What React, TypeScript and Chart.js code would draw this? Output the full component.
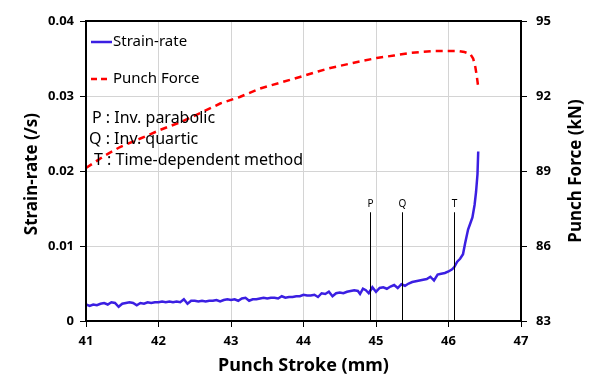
import React, { useEffect, useRef } from "react";
import { Chart, registerables } from "chart.js";

Chart.register(...registerables);

const strainStroke = [
  41.0, 41.05, 41.1, 41.15, 41.2, 41.25, 41.3, 41.35, 41.4, 41.45, 41.5, 41.55, 41.6, 41.65, 41.7, 41.75, 41.8, 41.85, 41.9, 41.95,
  42.0, 42.05, 42.1, 42.15, 42.2, 42.25, 42.3, 42.35, 42.4, 42.45, 42.5, 42.55, 42.6, 42.65, 42.7, 42.75, 42.8, 42.85, 42.9, 42.95,
  43.0, 43.05, 43.1, 43.15, 43.2, 43.25, 43.3, 43.35, 43.4, 43.45, 43.5, 43.55, 43.6, 43.65, 43.7, 43.75, 43.8, 43.85, 43.9, 43.95,
  44.0, 44.05, 44.1, 44.15, 44.2, 44.25, 44.3, 44.35, 44.4, 44.45, 44.5, 44.55, 44.6, 44.65, 44.7, 44.75, 44.78, 44.82, 44.86, 44.9,
  44.95, 45.0, 45.05, 45.1, 45.15, 45.2, 45.25, 45.3, 45.35, 45.4, 45.45, 45.5, 45.55, 45.6, 45.65, 45.7, 45.75, 45.8, 45.85, 45.9,
  45.95, 46.0, 46.05, 46.08, 46.12, 46.16, 46.2, 46.23, 46.27, 46.3, 46.33, 46.36, 46.38, 46.4, 46.41,
];
const strainRate = [
  0.0022, 0.002, 0.0022, 0.0021, 0.0023, 0.0024, 0.0022, 0.0025, 0.0024, 0.0019, 0.0023, 0.0024, 0.0025, 0.0024, 0.0021, 0.0024, 0.0023, 0.0025, 0.0024, 0.0025,
  0.0025, 0.0026, 0.0025, 0.0026, 0.0025, 0.0026, 0.0025, 0.0029, 0.0023, 0.0027, 0.0027, 0.0026, 0.0027, 0.0026, 0.0027, 0.0027, 0.0028, 0.0026, 0.0028, 0.0029,
  0.0028, 0.0029, 0.0027, 0.003, 0.0031, 0.0027, 0.0029, 0.0029, 0.003, 0.0031, 0.003, 0.0031, 0.0031, 0.003, 0.0033, 0.0031, 0.0032, 0.0032, 0.0033, 0.0033,
  0.0035, 0.0034, 0.0034, 0.0035, 0.0032, 0.0037, 0.0036, 0.0039, 0.0033, 0.0037, 0.0038, 0.0037, 0.0039, 0.004, 0.0041, 0.004, 0.0036, 0.0043, 0.0041, 0.0037,
  0.0045, 0.0039, 0.0044, 0.0045, 0.0043, 0.0046, 0.0048, 0.0044, 0.0049, 0.0047, 0.005, 0.0052, 0.0053, 0.0054, 0.0055, 0.0056, 0.0059, 0.0054, 0.0062, 0.0063,
  0.0064, 0.0066, 0.0069, 0.0072, 0.0079, 0.0083, 0.0089, 0.0104, 0.0122, 0.013, 0.0138, 0.0155, 0.0172, 0.0196, 0.0226,
];

const forceStroke = [
  41.0, 41.25, 41.47, 41.75, 42.02, 42.3, 42.6, 42.85, 43.12, 43.4, 43.7, 43.95, 44.2, 44.37, 44.68, 45.01, 45.25, 45.47, 45.79,
  46.12, 46.22, 46.3, 46.34, 46.37, 46.39, 46.41,
];
const punchForce = [
  89.12, 89.6, 89.96, 90.3, 90.64, 90.95, 91.35, 91.7, 91.96, 92.3, 92.55, 92.76, 92.98, 93.12, 93.32, 93.52, 93.62, 93.72, 93.8,
  93.8, 93.76, 93.68, 93.5, 93.16, 92.8, 92.36,
];

const markerLabels = ["P", "Q", "T"];
const markerStroke = [44.92, 45.36, 46.08];
const markerTop = 0.0145;

const noteLines = ["P : Inv. parabolic", "Q : Inv. quartic", "T : Time-dependent method"];

const xTitle = "Punch Stroke (mm)";
const yTitle = "Strain-rate (/s)";
const y1Title = "Punch Force (kN)";

const BLUE = "#3b1fe2";
const RED = "#ff0000";
const FONT = "'Noto Sans', 'DejaVu Sans', sans-serif";

export default function App() {
  const ref = useRef<HTMLCanvasElement | null>(null);

  useEffect(() => {
    if (!ref.current) return;
    const overlay = {
      id: "overlay",
      afterDraw(chart: any) {
        const ctx = chart.ctx;
        const a = chart.chartArea;
        const xs = chart.scales.x;
        const ys = chart.scales.y;
        ctx.save();
        // border
        ctx.strokeStyle = "#000";
        ctx.lineWidth = 2;
        ctx.strokeRect(a.left, a.top, a.right - a.left, a.bottom - a.top);

        // markers
        ctx.lineWidth = 1;
        ctx.strokeStyle = "#000";
        ctx.fillStyle = "#000";
        ctx.font = `10px ${FONT}`;
        ctx.textAlign = "center";
        ctx.textBaseline = "bottom";
        markerStroke.forEach((s, i) => {
          const px = Math.round(xs.getPixelForValue(s)) + 0.5;
          const top = ys.getPixelForValue(markerTop);
          ctx.beginPath();
          ctx.moveTo(px, top);
          ctx.lineTo(px, a.bottom);
          ctx.stroke();
          ctx.fillText(markerLabels[i], px, top - 3);
        });

        // legend
        ctx.font = `15px ${FONT}`;
        ctx.textAlign = "left";
        ctx.textBaseline = "middle";
        ctx.fillStyle = "#000";
        ctx.strokeStyle = BLUE;
        ctx.lineWidth = 2.5;
        ctx.beginPath();
        ctx.moveTo(a.left + 5, a.top + 21);
        ctx.lineTo(a.left + 26, a.top + 21);
        ctx.stroke();
        ctx.fillText("Strain-rate", a.left + 27, a.top + 21);
        ctx.strokeStyle = RED;
        ctx.setLineDash([6, 4]);
        ctx.beginPath();
        ctx.moveTo(a.left + 5, a.top + 58);
        ctx.lineTo(a.left + 22, a.top + 58);
        ctx.stroke();
        ctx.setLineDash([]);
        ctx.fillText("Punch Force", a.left + 27, a.top + 58);

        // notes
        ctx.font = `16px ${FONT}`;
        const noteX = [a.left + 6, a.left + 3, a.left + 8];
        noteLines.forEach((t, i) => {
          ctx.fillText(t, noteX[i], a.top + 97 + i * 21);
        });

        // titles
        ctx.textAlign = "center";
        ctx.font = `bold 18px ${FONT}`;
        ctx.fillText(xTitle, (a.left + a.right) / 2, 366);
        ctx.font = `bold 17px ${FONT}`;
        ctx.save();
        ctx.translate(32, (a.top + a.bottom) / 2 + 3);
        ctx.rotate(-Math.PI / 2);
        ctx.fillText(yTitle, 0, 0);
        ctx.restore();
        ctx.save();
        ctx.translate(576, (a.top + a.bottom) / 2);
        ctx.rotate(-Math.PI / 2);
        ctx.fillText(y1Title, 0, 0);
        ctx.restore();
        ctx.restore();
      },
    };

    const tickFont = { family: FONT, size: 13, weight: "bold" as const };
    const chart = new Chart(ref.current, {
      type: "line",
      data: {
        datasets: [
          {
            label: "Strain-rate",
            data: strainStroke.map((x, i) => ({ x, y: strainRate[i] })),
            borderColor: BLUE,
            borderWidth: 2.5,
            pointRadius: 0,
            yAxisID: "y",
          },
          {
            label: "Punch Force",
            data: forceStroke.map((x, i) => ({ x, y: punchForce[i] })),
            borderColor: RED,
            borderWidth: 2.5,
            borderDash: [7, 5],
            pointRadius: 0,
            yAxisID: "y1",
          },
        ],
      },
      options: {
        responsive: false,
        animation: false,
        layout: { padding: { top: 21, left: 0, right: 0, bottom: 0 } },
        plugins: { legend: { display: false }, tooltip: { enabled: false } },
        scales: {
          x: {
            type: "linear",
            min: 41,
            max: 47,
            ticks: { stepSize: 1, color: "#000", font: tickFont, padding: 6 },
            grid: { color: "#d4d4d4", tickColor: "#000", tickLength: 6, lineWidth: 1 },
            border: { display: false },
            afterFit: (s: any) => {
              s.height = 57;
            },
          },
          y: {
            type: "linear",
            position: "left",
            min: 0,
            max: 0.04,
            ticks: {
              stepSize: 0.01,
              color: "#000",
              font: tickFont,
              padding: 6,
              callback: (v: any) => (v === 0 ? "0" : Number(v).toFixed(2)),
            },
            grid: { color: "#d4d4d4", tickColor: "#000", tickLength: 6 },
            border: { display: false },
            afterFit: (s: any) => {
              s.width = 86;
            },
          },
          y1: {
            type: "linear",
            position: "right",
            min: 83,
            max: 95,
            ticks: { stepSize: 3, color: "#000", font: tickFont, padding: 9 },
            grid: { drawOnChartArea: false, tickColor: "#000", tickLength: 6 },
            border: { display: false },
            afterFit: (s: any) => {
              s.width = 77;
            },
          },
        },
      },
      plugins: [overlay],
    } as any);
    return () => chart.destroy();
  }, []);

  return (
    <div style={{ position: "absolute", left: 0, top: 0, width: 598, height: 378, background: "#fff" }}>
      <canvas ref={ref} width={598} height={378} style={{ display: "block" }} />
    </div>
  );
}
